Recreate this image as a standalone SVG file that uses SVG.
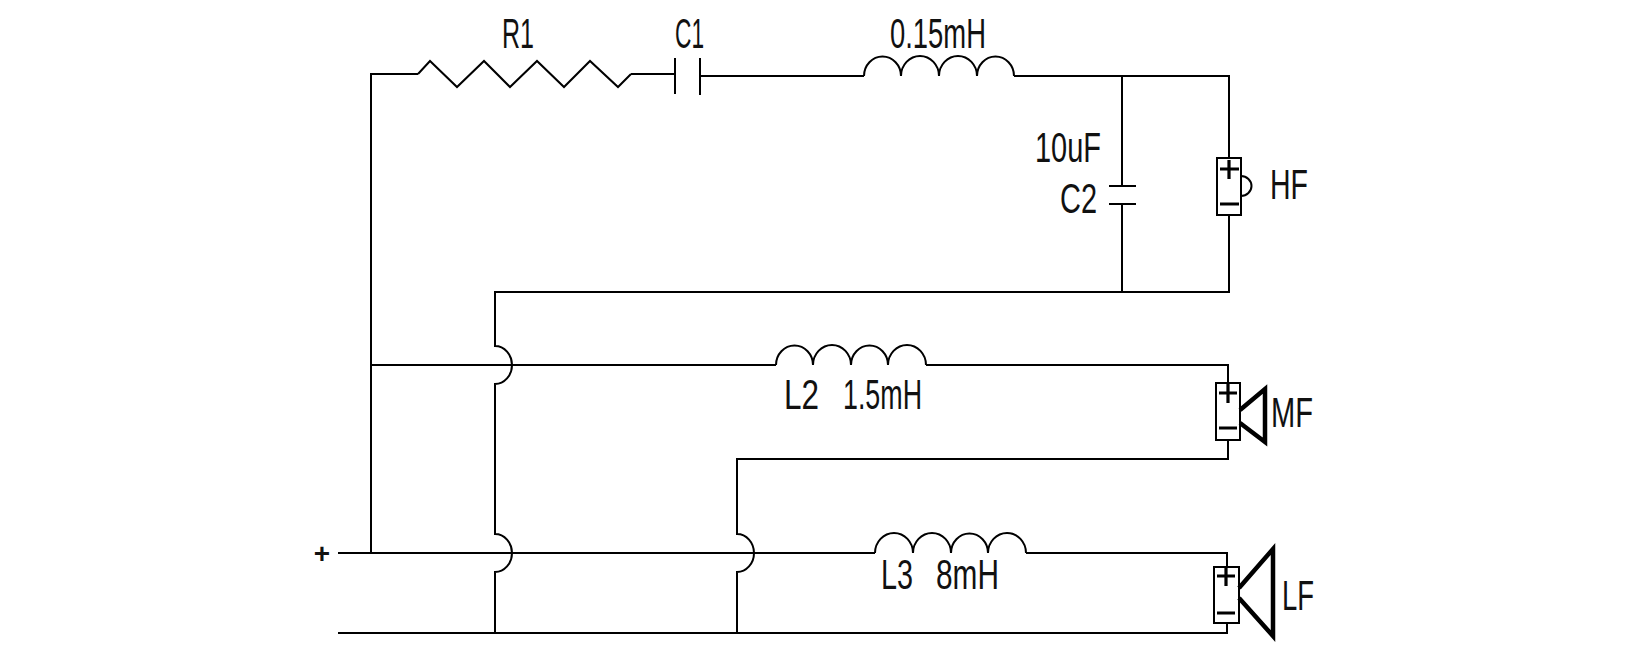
<svg xmlns="http://www.w3.org/2000/svg" width="1628" height="667" viewBox="0 0 1628 667">
<style>
.w{fill:none;stroke:#000;stroke-width:2}
.m{fill:none;stroke:#000;stroke-width:3.2}
.c{fill:none;stroke:#000;stroke-width:4.5;stroke-linejoin:miter}
text{font-family:"Liberation Sans",Arial,sans-serif;font-size:42px;fill:#111}
</style>
<rect width="1628" height="667" fill="#fff"/>
<g id="connectors" class="w">
<path d="M418 74H371V553"/>
<path d="M631 74H675"/>
<path d="M700 76H864"/>
<path d="M1014 76H1229V158"/>
<path d="M1122 76V186"/>
<path d="M1122 204V292"/>
<path d="M1229 215V292H495V346A17 19 0 0 1 495 384V534A17 19 0 0 1 495 572V633"/>
<path d="M371 365H776"/>
<path d="M926 365H1228V383"/>
<path d="M1228 440V459H737V534A17 19 0 0 1 737 572V633"/>
<path d="M338 553H875"/>
<path d="M1026 553H1227V567"/>
<path d="M338 633H1227V623"/>
</g>
<g id="R1"><path class="w" d="M418 74L430 61L457 87L484 61L510 87L537 61L564 87L590 61L618 87L631 74"/><text x="502" y="48" textLength="32" lengthAdjust="spacingAndGlyphs">R1</text></g>
<g id="C1"><path class="w" d="M675 58V94M700 58V95"/><text x="675" y="48" textLength="29" lengthAdjust="spacingAndGlyphs">C1</text></g>
<g id="L1"><path class="w" d="M864 76A18 19 0 0 1 901 76A18 19 0 0 1 939 76A18 19 0 0 1 977 76A18 19 0 0 1 1014 76"/><text x="890" y="48" textLength="96" lengthAdjust="spacingAndGlyphs">0.15mH</text></g>
<g id="C2"><path class="w" d="M1109 186H1136M1109 204H1136"/><text x="1035" y="162" textLength="66" lengthAdjust="spacingAndGlyphs">10uF</text><text x="1060" y="213" textLength="37" lengthAdjust="spacingAndGlyphs">C2</text></g>
<g id="HF"><rect class="w" x="1217" y="158" width="24" height="57"/><path class="m" d="M1220 169H1239M1229 160V179M1220 204H1239"/><path class="w" d="M1241 176A10.5 10 0 0 1 1241 196"/><text x="1270" y="199" textLength="38" lengthAdjust="spacingAndGlyphs">HF</text></g>
<g id="L2"><path class="w" d="M776 365A18 19 0 0 1 813 365A18 19 0 0 1 851 365A18 19 0 0 1 888 365A18 19 0 0 1 926 365"/><text x="784" y="409" textLength="35" lengthAdjust="spacingAndGlyphs">L2</text><text x="843" y="409" textLength="79" lengthAdjust="spacingAndGlyphs">1.5mH</text></g>
<g id="MF"><rect class="w" x="1216" y="383" width="24" height="57"/><path class="m" d="M1219 393H1237M1228 384V403M1219 428H1237"/><path class="c" d="M1240 410L1265 389V442L1240 423"/><text x="1271" y="427" textLength="42" lengthAdjust="spacingAndGlyphs">MF</text></g>
<g id="L3"><path class="w" d="M875 553A18 19 0 0 1 913 553A18 19 0 0 1 951 553A18 19 0 0 1 988 553A18 19 0 0 1 1026 553"/><text x="881" y="589" textLength="32" lengthAdjust="spacingAndGlyphs">L3</text><text x="936" y="589" textLength="63" lengthAdjust="spacingAndGlyphs">8mH</text></g>
<g id="LF"><rect class="w" x="1214" y="567" width="25" height="56"/><path class="m" d="M1217 576H1235M1226 567V586M1217 613H1235"/><path class="c" d="M1239 588L1273 549V636L1239 598"/><text x="1282" y="610" textLength="32" lengthAdjust="spacingAndGlyphs">LF</text></g>
<g id="plus"><text x="322" y="563" text-anchor="middle" font-weight="bold" style="font-size:28px">+</text></g>
</svg>
